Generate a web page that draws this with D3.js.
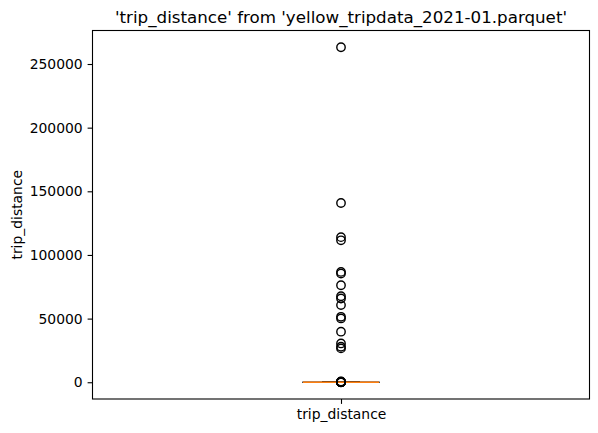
<!DOCTYPE html>
<html>
<head>
<meta charset="utf-8">
<script src="https://cdn.jsdelivr.net/npm/d3@7"></script>
<style>
  body { margin: 0; background: #fff; }
  text { font-family: "DejaVu Sans", sans-serif; fill: #000; }
</style>
</head>
<body>
<script>
// Box statistics for trip_distance (miles)
var category = ['trip_distance'];
var boxStats = { whiskerLow: 0, q1: 1.0, median: 1.9, q3: 3.6, whiskerHigh: 7.5 };

// outliers (values near zero all sit on the baseline)
var fliers = [
  263164, 140800, 114000, 111500, 86700, 85400, 76200, 67600, 65800, 60600,
  51400, 50100, 39700, 30500, 27900, 26600,
  8.0, 12, 20, 35, 60, 100, 150, 250, 400, 600
];
var yTicks = [0, 50000, 100000, 150000, 200000, 250000];

var width = 598, height = 433;
var margin = { left: 92.5, right: 8.5, top: 30.5, bottom: 34 };
var plotW = width - margin.left - margin.right;
var plotH = height - margin.top - margin.bottom;

var svg = d3.select('body').append('svg')
    .attr('width', width)
    .attr('height', height);

// matplotlib style 5% margin around data range
var yMin = 0, yMax = d3.max(fliers);
var pad = (yMax - yMin) * 0.05;
var y = d3.scaleLinear()
    .domain([yMin - pad, yMax + pad])
    .range([margin.top + plotH, margin.top]);

var x = d3.scaleLinear()
    .domain([0.5, 1.5])
    .range([margin.left, margin.left + plotW]);

var boxW = 0.153;
var cx = x(1);

var g = svg.append('g');

// whiskers
g.append('line')
    .attr('x1', cx).attr('x2', cx)
    .attr('y1', y(boxStats.whiskerLow)).attr('y2', y(boxStats.q1))
    .attr('stroke', '#000').attr('stroke-width', 1.4);
g.append('line')
    .attr('x1', cx).attr('x2', cx)
    .attr('y1', y(boxStats.q3)).attr('y2', y(boxStats.whiskerHigh))
    .attr('stroke', '#000').attr('stroke-width', 1.4);

// caps
[boxStats.whiskerLow, boxStats.whiskerHigh].forEach(function(v) {
    g.append('line')
        .attr('x1', x(1 - boxW / 4)).attr('x2', x(1 + boxW / 4))
        .attr('y1', y(v)).attr('y2', y(v))
        .attr('stroke', '#000').attr('stroke-width', 1.4);
});

// box
g.append('rect')
    .attr('x', x(1 - boxW / 2))
    .attr('y', y(boxStats.q3))
    .attr('width', x(1 + boxW / 2) - x(1 - boxW / 2))
    .attr('height', Math.max(0.01, y(boxStats.q1) - y(boxStats.q3)))
    .attr('fill', 'none')
    .attr('stroke', '#000').attr('stroke-width', 1.4);

// median
g.append('line')
    .attr('x1', x(1 - boxW / 2)).attr('x2', x(1 + boxW / 2))
    .attr('y1', y(boxStats.median)).attr('y2', y(boxStats.median))
    .attr('stroke', '#ff7f0e').attr('stroke-width', 1.6);

// fliers
g.selectAll('circle.flier')
    .data(fliers)
  .enter().append('circle')
    .attr('class', 'flier')
    .attr('cx', cx)
    .attr('cy', function(d) { return y(d); })
    .attr('r', 4.2)
    .attr('fill', 'none')
    .attr('stroke', '#000')
    .attr('stroke-width', 1.4);

// axes
var yAxis = d3.axisLeft(y)
    .tickValues(yTicks)
    .tickFormat(d3.format('d'))
    .tickSize(4.9)
    .tickPadding(4.9);
var yg = svg.append('g')
    .attr('transform', 'translate(' + margin.left + ',0)')
    .call(yAxis);

var xAxis = d3.axisBottom(x)
    .tickValues([1])
    .tickFormat(function() { return category[0]; })
    .tickSize(4.9)
    .tickPadding(4.9);
var xg = svg.append('g')
    .attr('transform', 'translate(0,' + (margin.top + plotH) + ')')
    .call(xAxis);

[yg, xg].forEach(function(a) {
    a.select('.domain').remove();
    a.selectAll('.tick line').attr('stroke', '#000').attr('stroke-width', 1.1);
    a.selectAll('.tick text')
        .style('font-family', '"DejaVu Sans", sans-serif')
        .style('font-size', '13.9px')
        .attr('fill', '#000');
});

// frame
svg.append('rect')
    .attr('x', margin.left).attr('y', margin.top)
    .attr('width', plotW).attr('height', plotH)
    .attr('fill', 'none')
    .attr('stroke', '#000')
    .attr('stroke-width', 1.1);

// title
svg.append('text')
    .attr('x', margin.left + plotW / 2)
    .attr('y', 23)
    .attr('text-anchor', 'middle')
    .style('font-size', '16.7px')
    .text("'trip_distance' from 'yellow_tripdata_2021-01.parquet'");

// y label
svg.append('text')
    .attr('transform', 'translate(22,' + (margin.top + plotH / 2) + ') rotate(-90)')
    .attr('text-anchor', 'middle')
    .style('font-size', '13.9px')
    .text('trip_distance');
</script>
</body>
</html>
